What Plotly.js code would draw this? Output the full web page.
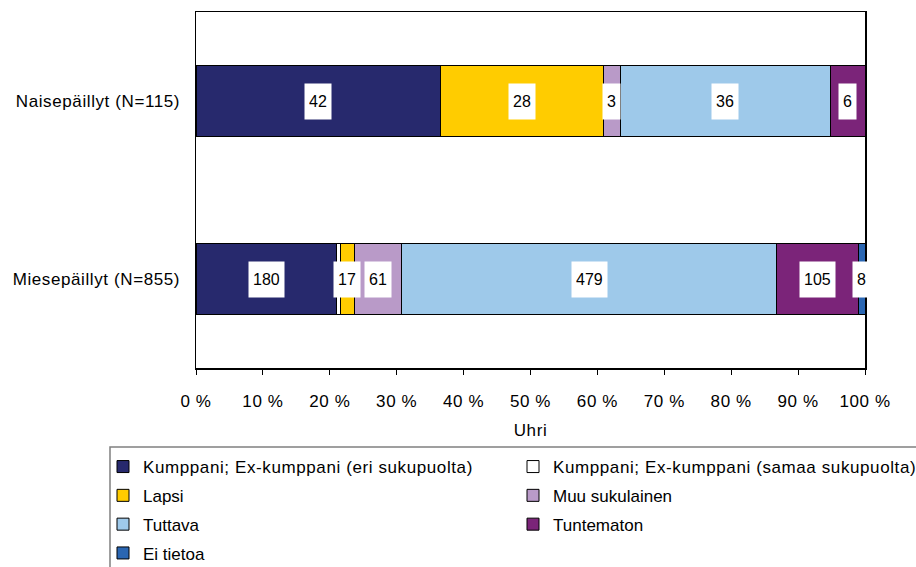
<!DOCTYPE html>
<html>
<head>
<meta charset="utf-8">
<script src="https://cdn.plot.ly/plotly-3.0.1.min.js"></script>
<style>
html,body{margin:0;padding:0;background:#fff;}
#chart{width:916px;height:567px;}
#chart .ytick text, #chart .xtick text, #chart .legendtext, #chart .xtitle { letter-spacing: 0.6px; }
</style>
</head>
<body>
<div id="chart"></div>
<script>
const categories = ['Naisepäillyt (N=115)', 'Miesepäillyt (N=855)'];
const seriesNames = [
  'Kumppani; Ex-kumppani (eri sukupuolta)',
  'Kumppani; Ex-kumppani (samaa sukupuolta)',
  'Lapsi',
  'Muu sukulainen',
  'Tuttava',
  'Tuntematon',
  'Ei tietoa'
];
const eriSukupuolta = [42, 180];
const samaaSukupuolta = [0, 5];
const lapsi = [28, 17];
const muuSukulainen = [3, 61];
const tuttava = [36, 479];
const tuntematon = [6, 105];
const eiTietoa = [0, 8];
const seriesColors = ['#27296d', '#ffffff', '#ffcc00', '#b99ac8', '#9ec9ea', '#7b2479', '#2a66b2'];
const tickVals = [0, 10, 20, 30, 40, 50, 60, 70, 80, 90, 100];
const tickLabels = ['0 %', '10 %', '20 %', '30 %', '40 %', '50 %', '60 %', '70 %', '80 %', '90 %', '100 %'];

const seriesValues = [eriSukupuolta, samaaSukupuolta, lapsi, muuSukulainen, tuttava, tuntematon, eiTietoa];
const FONT = 'Liberation Sans, Arial, sans-serif';

// legend: two entries per row, one Plotly legend per row
const legendIds = ['legend', 'legend2', 'legend3', 'legend4'];

const traces = seriesValues.map((vals, i) => ({
  type: 'bar',
  orientation: 'h',
  name: seriesNames[i],
  y: categories,
  x: vals,
  legend: legendIds[Math.floor(i / 2)],
  marker: {color: seriesColors[i], line: {color: '#000000', width: 1}},
  hoverinfo: 'name+x'
}));

// labels at segment centres, in percent of each row's total
const annotations = [];
categories.forEach((cat, ci) => {
  const total = seriesValues.reduce((s, v) => s + v[ci], 0);
  let cum = 0;
  seriesValues.forEach((vals) => {
    const v = vals[ci];
    if (v > 0 && vals !== samaaSukupuolta) {
      annotations.push({
        x: (cum + v / 2) / total * 100, y: cat, xref: 'x', yref: 'y',
        text: String(v), showarrow: false,
        font: {family: FONT, size: 16, color: '#000'},
        bgcolor: '#ffffff', borderpad: 4, height: 27
      });
    }
    cum += v;
  });
});

const plotL = 196, plotR = 865, plotT = 12, plotB = 368;
const pw = plotR - plotL, ph = plotB - plotT;
const px2x = (px) => (px - plotL) / pw;
const px2y = (py) => (plotB - py) / ph;

const layout = {
  width: 916, height: 567,
  margin: {l: plotL, r: 916 - plotR, t: plotT, b: 567 - plotB, autoexpand: false},
  paper_bgcolor: '#fff', plot_bgcolor: '#fff',
  font: {family: FONT, size: 17, color: '#000'},
  barmode: 'stack', barnorm: 'percent', bargap: 0.6,
  showlegend: true,
  xaxis: {
    range: [0, 100], tickmode: 'array', tickvals: tickVals, ticktext: tickLabels,
    ticks: 'outside', ticklen: 5, tickcolor: '#000', tickwidth: 1,
    showline: true, linecolor: '#000', linewidth: 1.5, mirror: true,
    showgrid: false, zeroline: false, ticklabelstandoff: 12,
    tickfont: {family: FONT, size: 17},
    title: {text: 'Uhri', font: {family: FONT, size: 17}, standoff: 14},
    fixedrange: true
  },
  yaxis: {
    autorange: 'reversed', type: 'category',
    showline: true, linecolor: '#000', linewidth: 1.5, mirror: true,
    ticks: '', showgrid: false, zeroline: false, ticklabelstandoff: 11,
    tickfont: {family: FONT, size: 17}, fixedrange: true
  },
  shapes: [{
    type: 'rect', xref: 'paper', yref: 'paper',
    x0: px2x(110), x1: px2x(918),
    y0: px2y(447), y1: px2y(600),
    line: {color: '#808080', width: 1.5}, fillcolor: 'rgba(0,0,0,0)', layer: 'below'
  }],
  annotations: annotations
};

legendIds.forEach((id, k) => {
  layout[id] = {
    orientation: 'h', x: px2x(103), xanchor: 'left',
    y: px2y(449 + 28.8 * k), yanchor: 'top',
    entrywidth: 365, entrywidthmode: 'pixels',
    font: {family: FONT, size: 17}, traceorder: 'normal',
    borderwidth: 0, bgcolor: 'rgba(0,0,0,0)'
  };
});

Plotly.newPlot('chart', traces, layout, {displayModeBar: false, staticPlot: true});
</script>
</body>
</html>
